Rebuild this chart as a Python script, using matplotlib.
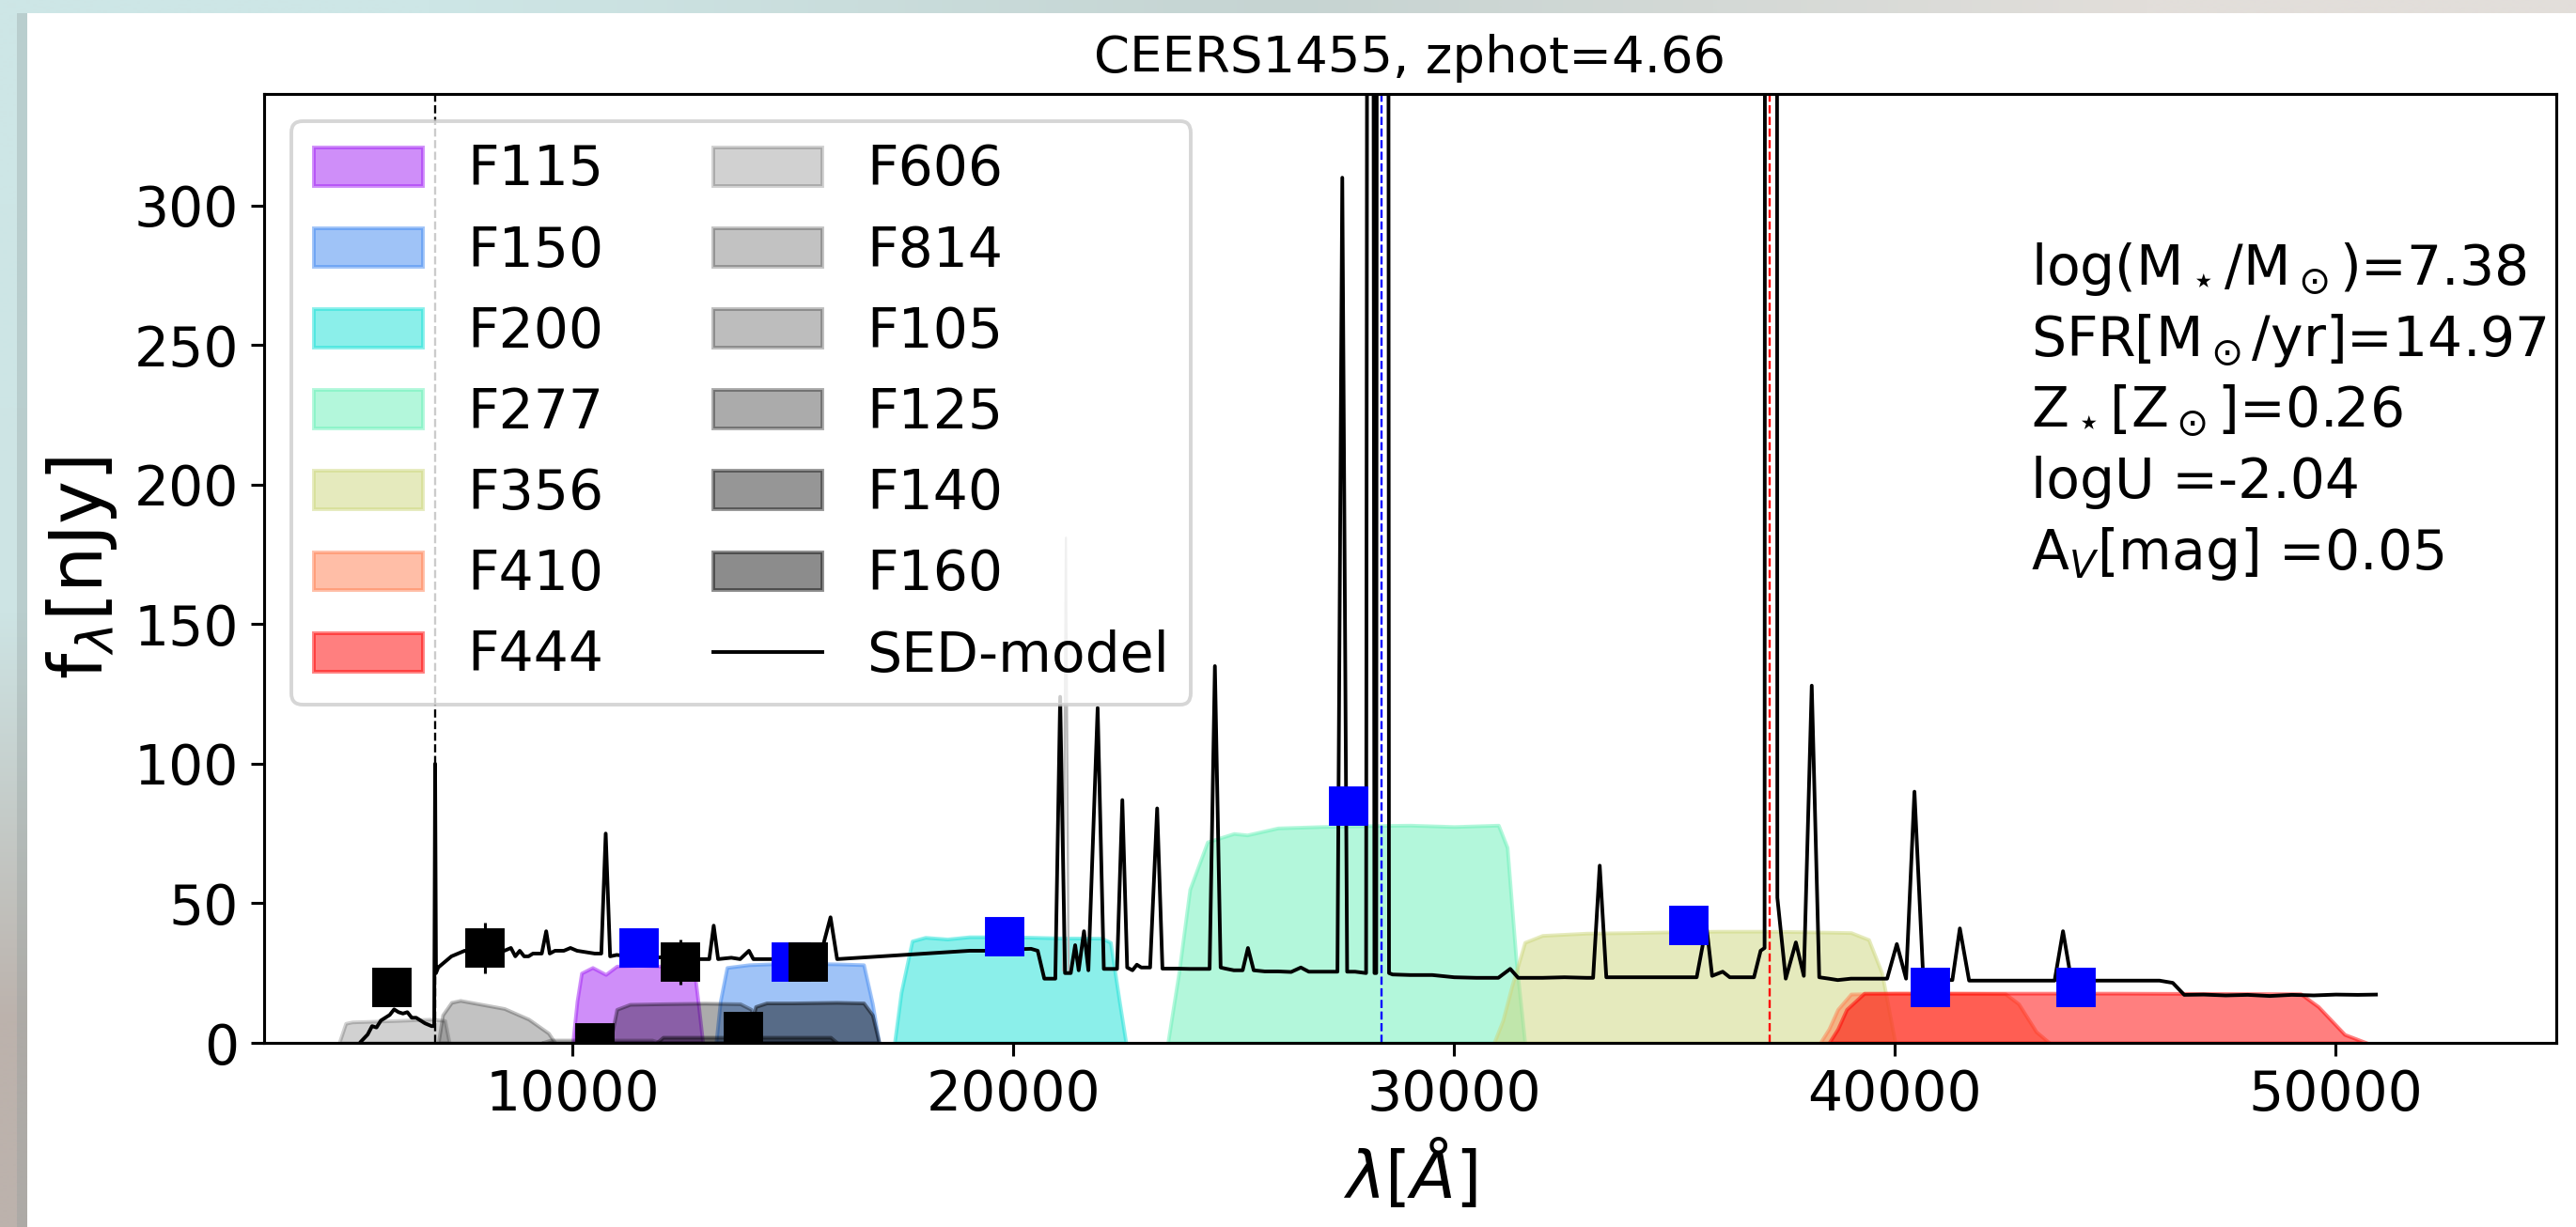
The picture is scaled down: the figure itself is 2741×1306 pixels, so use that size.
import numpy as np
import matplotlib
matplotlib.use('Agg')
import matplotlib.pyplot as plt
from matplotlib.patches import Rectangle

# ---------------- data ----------------
title = 'CEERS1455, zphot=4.66'

sed_wave = [5200, 5350, 5450, 5550, 5650, 5750, 5850, 5950, 6050, 6150, 6250, 6350, 6450,
            6550, 6650, 6800, 6860, 6880, 6900, 6950, 7100, 7250, 7400, 7550, 7700, 7850,
            8000, 8150, 8300, 8450, 8600, 8700, 8800, 8900, 9000, 9100, 9300, 9400, 9480,
            9600, 9800, 9950, 10100, 10300, 10500, 10650, 10750, 10850, 11000, 11300, 11600,
            11900, 12200, 12500, 12800, 13100, 13200, 13300, 13600, 13800, 14000, 14100,
            14400, 14700, 15000, 15300, 15600, 15850, 16000, 16500, 17000, 17500, 18000,
            18500, 19000, 19500, 20000, 20400, 20550, 20700, 20950, 21060, 21170, 21300,
            21400, 21480, 21600, 21700, 21910, 22050, 22200, 22350, 22470, 22580, 22700,
            22800, 22900, 23100, 23260, 23380, 23700, 24000, 24300, 24450, 24570, 24700,
            24810, 25000, 25200, 25320, 25450, 25700, 26000, 26300, 26520, 26700, 27000,
            27350, 27460, 27570, 27750, 28000, 28095, 28190, 28230, 28370, 28520, 28600,
            29000, 29500, 30000, 30500, 31000, 31270, 31450, 32000, 32500, 33000, 33150,
            33300, 33450, 34000, 35000, 35500, 35720, 35850, 36090, 36250, 36800, 36950,
            37040, 37180, 37330, 37520, 37750, 37930, 38110, 38280, 38500, 38700, 39000,
            39500, 39820, 40040, 40250, 40440, 40640, 41000, 41300, 41470, 41680, 42500,
            43500, 43620, 43810, 44000, 45000, 46000, 46300, 46560, 47000, 47500, 48000,
            48500, 49000, 49500, 50000, 50500, 50910]
sed_flux = [0.5, 3, 6, 5.5, 8, 9, 10, 12, 11, 10.5, 11, 9, 9,
            8, 7, 6, 6, 100, 25, 27, 29, 31, 32, 33, 32, 34,
            33, 35, 32, 33, 34, 31, 33, 31, 31, 32, 32, 40, 32,
            33, 33, 34, 33, 32.5, 32, 32, 75, 31, 31.5, 31, 31,
            30.5, 31, 30, 30, 30, 42, 30, 30.5, 30, 33, 30,
            30, 30, 30, 30, 30, 45, 30, 30.5, 31, 31.5, 32,
            32.5, 33, 33, 33.5, 33.7, 33, 23, 23, 124, 25, 25,
            35, 26, 40, 26, 120, 26.5, 26.5, 26.5, 87, 27, 26,
            28, 27, 27, 84, 26.6, 26.6, 26.5, 26.5, 26.5, 135, 27,
            26.6, 26, 26, 34, 26, 25.6, 25.6, 25.4, 27, 25.5, 25.5,
            25.5, 310, 25.5, 25.5, 25, 1500, 25, 25, 4000, 25, 24.5,
            24.3, 24.3, 23.5, 23.3, 23.3, 26.5, 23.3, 23.3, 23.5, 23.3, 23.3,
            63.5, 23.5, 23.5, 23.5, 23.5, 42, 24, 25.5, 23.5, 23.5, 33,
            34, 6000, 52, 23, 36, 24, 128, 23.5, 23, 22.5, 23,
            23, 23, 35.4, 23, 90, 23, 22.5, 22.5, 41, 22.3, 22.3,
            22.3, 22.3, 40, 22.3, 22.3, 22.3, 21.5, 17.2, 17.3, 17, 17.2,
            16.8, 17.2, 17, 17.3, 17.2, 17.3]

# faint grey spike near [OII]
grey_wave = [21130, 21190, 21250]
grey_flux = [26, 181, 26]

# JWST / NIRCam photometry (blue squares)
jwst_names = ['F115', 'F150', 'F200', 'F277', 'F356', 'F410', 'F444']
jwst_wave = [11500, 14950, 19800, 27600, 35330, 40800, 44100]
jwst_flux = [34, 29, 38, 85, 42, 20, 20]
jwst_err = [2, 2, 2, 2, 2, 2, 2]

# HST photometry (black squares)
hst_names = ['F606', 'F814', 'F105', 'F125', 'F140', 'F160']
hst_wave = [5900, 8000, 10500, 12450, 13870, 15350]
hst_flux = [20, 34, 0, 29, 4, 29]
hst_err = [3, 9, 3, 8, 3, 5]

# filter transmission curves (scaled, as drawn)
f115_w = [10000, 10100, 10200, 10450, 10750, 11000, 11500, 12000, 12500, 12750, 12850, 12950]
f115_t = [0, 15, 25, 27, 24.5, 27.5, 27.8, 27.5, 27.6, 27, 14, 0]
f150_w = [13250, 13350, 13500, 14000, 14500, 15000, 15500, 16000, 16600, 16800, 16950]
f150_t = [0, 15, 27, 28, 28.3, 28, 28.4, 28.3, 28, 14, 0]
f200_w = [17300, 17450, 17700, 18000, 18500, 19000, 20000, 21000, 22000, 22200, 22400, 22550]
f200_t = [0, 18, 36.5, 37.8, 37.2, 38, 38, 37.6, 37.5, 36, 15, 0]
f277_w = [23500, 23750, 24000, 24400, 25000, 25300, 26000, 27000, 28000, 29000, 30000, 31000, 31200, 31400, 31600]
f277_t = [0, 25, 55, 72, 75, 74.5, 77, 77.5, 77.8, 78, 77.5, 78, 70, 30, 0]
f356_w = [30900, 31100, 31300, 31600, 32000, 33000, 34000, 35000, 36000, 37000, 38000, 39000, 39400, 39700, 40000]
f356_t = [0, 8, 20, 36, 38.5, 39.3, 39.5, 39.8, 40, 40, 39.8, 39.5, 37, 25, 0]
f410_w = [38300, 38500, 38700, 39000, 40000, 41000, 42000, 42500, 42800, 43200, 43500]
f410_t = [0, 5, 12, 17.5, 17.8, 17.8, 17.7, 17.6, 14, 4, 0]
f444_w = [38500, 38700, 38900, 39300, 41000, 43000, 45000, 47000, 49200, 49600, 50200, 50700]
f444_t = [0, 5, 12, 17.8, 17.8, 17.8, 17.8, 17.7, 17.6, 13, 3, 0]

f606_w = [4700, 4850, 5000, 6000, 6800, 7100, 7200]
f606_t = [0, 7, 7.5, 8, 8.5, 8, 0]
f814_w = [6950, 7050, 7250, 7450, 8450, 9000, 9450, 9600]
f814_t = [0, 10, 14.5, 15.2, 12.3, 8.5, 3.5, 0]
f105_w = [9300, 9500, 11800, 12000]
f105_t = [0, 1.0, 1.0, 0]
f125_w = [10850, 11000, 11300, 12000, 13000, 13800, 14050, 14200]
f125_t = [0, 12, 13.8, 14, 14.2, 14, 12, 0]
f140_w = [11900, 12050, 15850, 16000]
f140_t = [0, 2, 2, 0]
f160_w = [13950, 14150, 14400, 15000, 16000, 16600, 16800, 16950]
f160_t = [0, 13, 14.3, 14.3, 14.5, 14.3, 10, 0]

jwst_curves = [(f115_w, f115_t), (f150_w, f150_t), (f200_w, f200_t), (f277_w, f277_t),
               (f356_w, f356_t), (f410_w, f410_t), (f444_w, f444_t)]
hst_curves = [(f606_w, f606_t), (f814_w, f814_t), (f105_w, f105_t), (f125_w, f125_t),
              (f140_w, f140_t), (f160_w, f160_t)]

jwst_colors = ['#a11ff5', '#4189f1', '#19e1d7', '#69f1b9', '#cdd77d', 'coral', 'red']
hst_alphas = [0.18, 0.24, 0.26, 0.33, 0.41, 0.45]

# reference emission-line markers (Lya, [OIII]5007, Halpha)
vline_wave = [6880, 28360, 37160]
vline_color = ['k', 'b', 'r']

stats = [r'log(M$_\star$/M$_\odot$)=7.38',
         r'SFR[M$_\odot$/yr]=14.97',
         r'Z$_\star$[Z$_\odot$]=0.26',
         r'logU =-2.04',
         r'A$_V$[mag] =0.05']

# ---------------- figure ----------------
W, H = 2741, 1306
DPI = 280
fig = plt.figure(figsize=(W / DPI, H / DPI), dpi=DPI)

# screenshot frame background
bg = fig.add_axes([0, 0, 1, 1], zorder=-5)
bg.set_xlim(0, W)
bg.set_ylim(H, 0)
bg.axis('off')
grad = np.array([[[205, 230, 230], [198, 212, 210], [226, 222, 218]],
                 [[205, 228, 228], [255, 255, 255], [255, 255, 255]],
                 [[188, 178, 172], [255, 255, 255], [255, 255, 255]]]) / 255.0
bg.imshow(grad, extent=(0, W, H, 0), interpolation='bilinear', aspect='auto')
bg.add_patch(Rectangle((18, 14), 11, H - 14, color=(0.55, 0.6, 0.6), alpha=0.3, lw=0))
bg.add_patch(Rectangle((29, 14), W - 29, H - 14, color='white', lw=0))

ax = fig.add_axes([281 / W, 1 - 1110 / H, (2720 - 281) / W, (1110 - 100) / H])

handles = []
labels = []
for name, (w, t), c in zip(jwst_names, jwst_curves, jwst_colors):
    h = ax.fill_between(w, t, color=c, alpha=0.5, lw=1, zorder=1)
    handles.append(h)
    labels.append(name)
for name, (w, t), a in zip(hst_names, hst_curves, hst_alphas):
    h = ax.fill_between(w, t, color='k', alpha=a, lw=1, zorder=1)
    handles.append(h)
    labels.append(name)

ax.plot(grey_wave, grey_flux, color='0.72', lw=0.6, zorder=2)
line, = ax.plot(sed_wave, sed_flux, color='k', lw=1.0, zorder=3)
handles.append(line)
labels.append('SED-model')

for xv, c in zip(vline_wave, vline_color):
    ax.axvline(xv, color=c, ls='--', lw=0.6, zorder=2.5)

ax.errorbar(jwst_wave, jwst_flux, yerr=jwst_err, fmt='s', color='b', ms=10,
            elinewidth=0.8, zorder=5)
ax.errorbar(hst_wave, hst_flux, yerr=hst_err, fmt='s', color='k', ms=10,
            elinewidth=0.8, zorder=6)

ax.set_xlim(3000, 55000)
ax.set_ylim(0, 340)
ax.set_xticks([10000, 20000, 30000, 40000, 50000])
ax.set_yticks([0, 50, 100, 150, 200, 250, 300])
ax.tick_params(labelsize=15)
ax.set_title(title, fontsize=14)
ax.set_xlabel(r'$\lambda[\AA]$', fontsize=18)
ax.set_ylabel(r'f$_\lambda$[nJy]', fontsize=20)

ax.legend(handles, labels, ncol=2, loc='upper left', fontsize=15)

for i, s in enumerate(stats):
    ax.text(0.771, 0.799 - 0.075 * i, s, transform=ax.transAxes, fontsize=15,
            va='baseline', ha='left')

fig.savefig('out.png', dpi=DPI)
